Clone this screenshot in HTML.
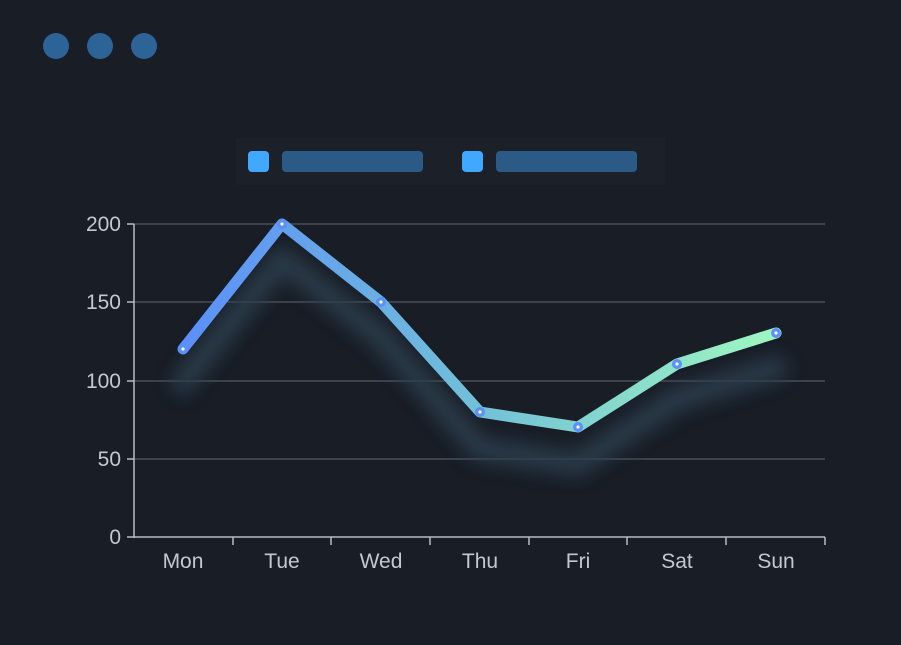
<!DOCTYPE html>
<html><head><meta charset="utf-8"><style>
html,body{margin:0;padding:0;background:#181d26;}
svg{display:block;}
text{font-family:"Liberation Sans",sans-serif;}
</style></head><body>
<svg width="901" height="645" viewBox="0 0 901 645" xmlns="http://www.w3.org/2000/svg">
<defs>
<linearGradient id="g" x1="183" y1="0" x2="776" y2="0" gradientUnits="userSpaceOnUse">
<stop offset="0" stop-color="#5b8ff9"/>
<stop offset="0.5" stop-color="#72c0d8"/>
<stop offset="1" stop-color="#9ef7c0"/>
</linearGradient>
<filter id="b" x="-20%" y="-50%" width="140%" height="200%"><feGaussianBlur stdDeviation="9"/></filter>
</defs>
<rect width="901" height="645" fill="#181d26"/>
<circle cx="56" cy="46" r="13" fill="#2c6498"/>
<circle cx="100" cy="46" r="13" fill="#2c6498"/>
<circle cx="144" cy="46" r="13" fill="#2c6498"/>
<rect x="236" y="138" width="429" height="47" fill="#1b2029"/>
<rect x="248" y="151" width="21" height="21" rx="4" fill="#40a9ff"/>
<rect x="282" y="151" width="141" height="21" rx="4" fill="#2a5a85"/>
<rect x="462" y="151" width="21" height="21" rx="4" fill="#40a9ff"/>
<rect x="496" y="151" width="141" height="21" rx="4" fill="#2a5a85"/>
<g stroke="#4a4e58" stroke-width="1.5">
<line x1="134" y1="224" x2="825" y2="224"/>
<line x1="134" y1="302" x2="825" y2="302"/>
<line x1="134" y1="381" x2="825" y2="381"/>
<line x1="134" y1="459" x2="825" y2="459"/>
</g>
<polyline points="183,382 282,259 381,337 480,449 578,464 677,399 776,368" fill="none" stroke="#2a3c4c" stroke-width="24" stroke-linejoin="round" stroke-linecap="round" filter="url(#b)" opacity="0.9"/>
<g stroke="#b8bcc4" stroke-width="1.5" fill="none">
<line x1="134" y1="224" x2="134" y2="538"/>
<line x1="134" y1="537" x2="825" y2="537"/>
<line x1="127" y1="224" x2="134" y2="224"/><line x1="127" y1="302" x2="134" y2="302"/>
<line x1="127" y1="381" x2="134" y2="381"/><line x1="127" y1="459" x2="134" y2="459"/>
<line x1="127" y1="537" x2="134" y2="537"/>
<line x1="233" y1="537" x2="233" y2="545"/><line x1="331" y1="537" x2="331" y2="545"/>
<line x1="430" y1="537" x2="430" y2="545"/><line x1="529" y1="537" x2="529" y2="545"/>
<line x1="627" y1="537" x2="627" y2="545"/><line x1="726" y1="537" x2="726" y2="545"/>
<line x1="825" y1="537" x2="825" y2="545"/>
</g>
<g fill="#c4c8d0" font-size="21" text-anchor="end">
<text x="121" y="231">200</text><text x="121" y="309">150</text>
<text x="121" y="388">100</text><text x="121" y="466">50</text><text x="121" y="544">0</text>
</g>
<g fill="#c4c8d0" font-size="21" text-anchor="middle">
<text x="183" y="568">Mon</text><text x="282" y="568">Tue</text><text x="381" y="568">Wed</text>
<text x="480" y="568">Thu</text><text x="578" y="568">Fri</text><text x="677" y="568">Sat</text><text x="776" y="568">Sun</text>
</g>
<polyline points="183,349 282,224 381,302 480,412 578,427 677,364 776,333" fill="none" stroke="url(#g)" stroke-width="11" stroke-linejoin="round" stroke-linecap="round"/>
<g fill="#5b8ff9">
<circle cx="183" cy="349" r="5"/><circle cx="282" cy="224" r="5"/><circle cx="381" cy="302" r="5"/>
<circle cx="480" cy="412" r="5"/><circle cx="578" cy="427" r="5"/><circle cx="677" cy="364" r="5"/><circle cx="776" cy="333" r="5"/>
</g>
<g fill="#fff">
<circle cx="183" cy="349" r="1.6"/><circle cx="282" cy="224" r="1.6"/><circle cx="381" cy="302" r="1.6"/>
<circle cx="480" cy="412" r="1.6"/><circle cx="578" cy="427" r="1.6"/><circle cx="677" cy="364" r="1.6"/><circle cx="776" cy="333" r="1.6"/>
</g>
</svg>
</body></html>
